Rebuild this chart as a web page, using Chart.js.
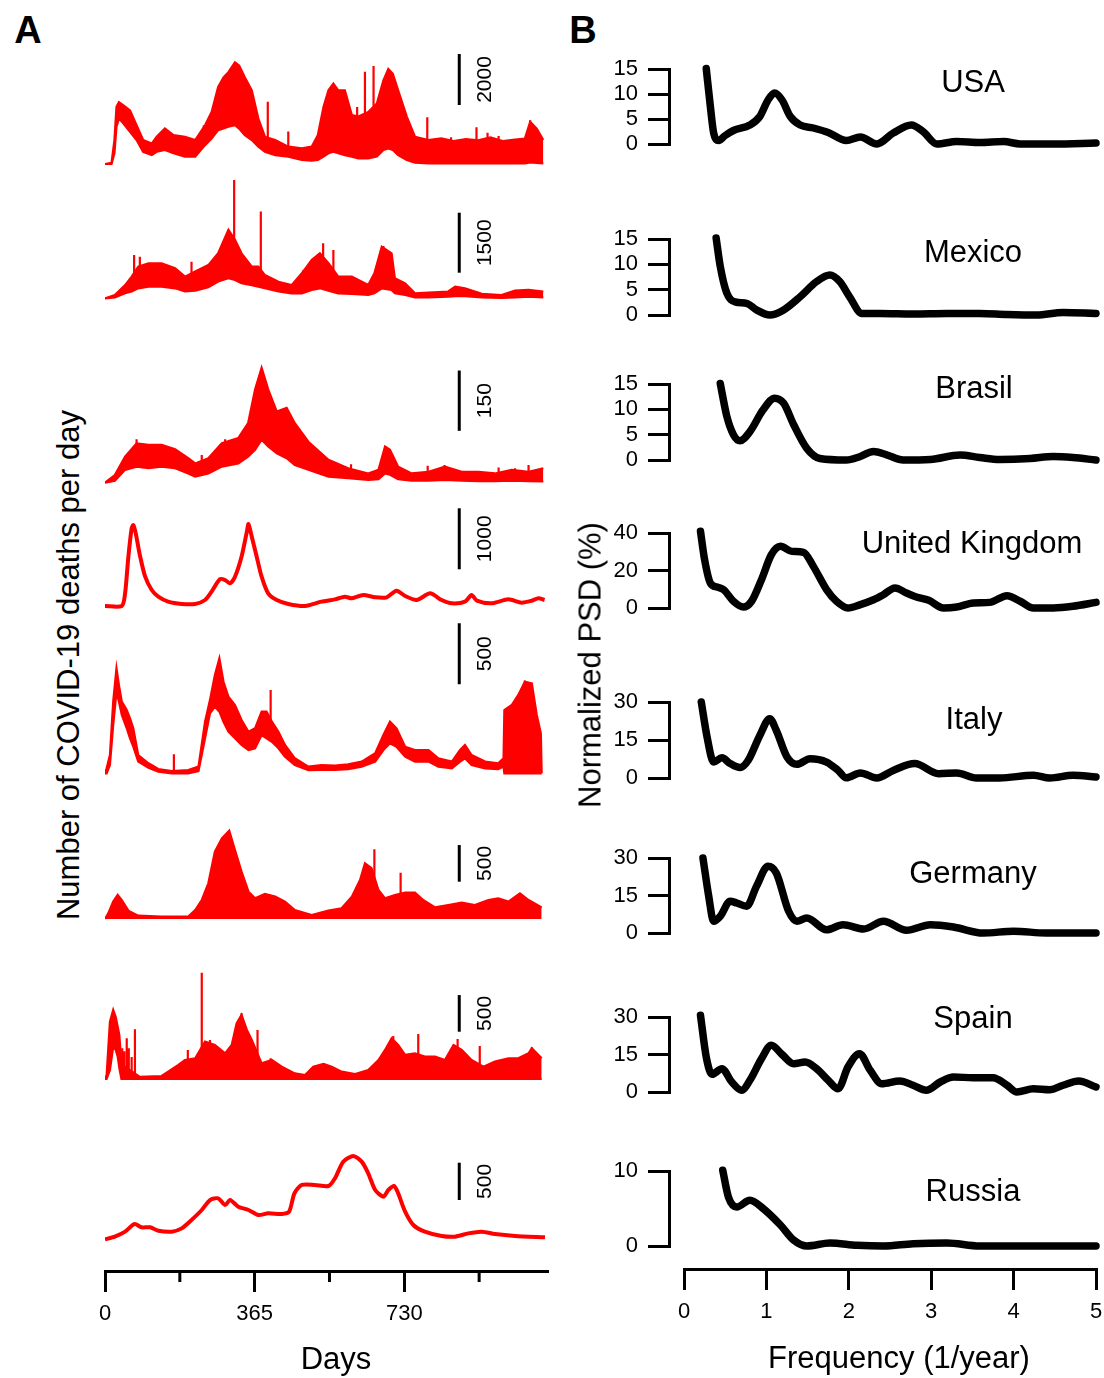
<!DOCTYPE html>
<html><head><meta charset="utf-8">
<script src="https://cdn.jsdelivr.net/npm/chart.js"></script>
<style>
html,body{margin:0;padding:0;background:#fff;}
body{width:1104px;height:1378px;position:relative;overflow:hidden;font-family:"Liberation Sans",Arial,Helvetica,sans-serif;color:#000;}
canvas{position:absolute;}
.lbl{position:absolute;white-space:nowrap;line-height:1;transform:translate(-50%,-50%);}
.rot{transform:translate(-50%,-50%) rotate(-90deg);}
</style></head><body>
<script>
// ---------------- DATA ----------------
const countries = ['USA','Mexico','Brasil','United Kingdom','Italy','Germany','Spain','Russia'];
const scaleBarValues = [2000,1500,150,1000,500,500,500,500];
const dayTicks = [0,365,730];
const dayMinorTicks = [182.5,547.5,912.5];
const freqTicks = [0,1,2,3,4,5];
const psdMax = [15,15,15,40,30,30,30,10];
const psdStep = [5,5,5,20,15,15,15,10];

// Panel A: daily deaths (upper / lower envelope of the daily series)
const usaDays = [0,16,23,28,34,45,61,77,93,114,126,146,167,195,220,244,260,276,289,301,317,327,341,358,374,390,415,447,480,504,519,533,545,557,569,585,602,618,642,663,679,691,702,715,736,756,789,820,850,880,910,940,970,1000,1024,1037,1053,1069];
const usaHi = [0,50,940,2240,2430,2300,2100,1520,940,800,1070,1390,1130,1070,940,1520,2040,3020,3400,3600,3990,3860,3400,2890,1780,1070,940,680,610,680,1130,2240,2890,3150,2890,2890,1920,1860,2040,2370,3280,3730,3540,2890,1860,1070,940,1010,900,980,930,1040,900,960,1000,1650,1390,940];
const usaLo = [0,0,420,1460,1780,1590,1260,940,480,350,480,550,420,290,290,740,1000,1330,1390,1460,1520,1390,1130,940,680,480,350,290,160,130,160,290,420,480,420,350,290,220,220,290,550,610,550,350,160,50,25,25,25,25,25,25,25,25,25,60,40,25];
const usaSpikeDays = [241,397,447,615,634,655,673,786,805,844,906,933,960,1037];
const usaSpikeValues = [1520,2440,1270,2240,3620,3840,2700,1830,1000,1050,1440,1230,1100,1720];

const mexDays = [0,24,49,65,81,106,138,171,195,220,252,276,301,317,333,358,374,390,423,455,480,504,524,545,569,602,642,657,675,699,707,732,756,789,837,854,878,919,967,1000,1033,1069];
const mexHi = [0,83,330,540,790,875,875,750,540,670,830,1125,1710,1460,1125,790,790,580,415,330,625,960,1125,875,540,540,330,625,1290,1125,500,375,125,140,170,290,250,110,83,190,210,170];
const mexLo = [0,25,125,170,250,290,290,250,170,190,275,420,500,460,375,330,290,250,170,125,125,210,250,190,125,110,83,125,250,210,125,83,25,25,40,55,55,25,10,25,40,25];
const mexSpikeDays = [71,85,211,315,380,484,532,557,679];
const mexSpikeValues = [1080,1040,915,2960,2170,710,1375,1210,1310];

const braDays = [0,24,49,77,106,138,171,203,220,252,285,325,349,366,382,398,419,443,463,496,545,593,642,667,683,695,715,748,789,829,870,911,951,992,1033,1069];
const braHi = [0,19,65,98,94,94,83,61,48,61,98,111,148,232,286,232,177,186,148,102,57,36,23,32,90,82,40,23,27,40,27,27,23,32,27,36];
const braLo = [0,5,32,40,36,40,36,23,15,23,40,48,65,82,107,90,73,61,44,32,15,11,7,9,23,20,9,5,5,7,5,4,4,5,4,3];
const braSpikeDays = [77,236,293,600,787,828,960,1000,1033,1065];
const braSpikeValues = [108,69,108,46,42,44,38,36,44,36];

const ukDays = [0,41,49,57,65,69,75,85,98,114,130,154,187,220,244,260,280,293,305,317,333,346,350,358,370,382,398,419,447,488,528,561,585,602,630,659,687,711,732,760,793,821,846,878,894,907,943,984,1016,1041,1057,1072];
const ukValues = [0,0,207,808,1272,1327,1190,835,480,262,153,71,33,33,98,235,437,426,371,480,808,1218,1343,1136,808,480,207,98,33,0,71,109,153,126,180,142,142,251,164,98,207,98,44,71,180,87,44,109,55,87,126,98];

const itaDays = [0,4,12,20,28,34,41,53,61,69,81,106,130,163,203,228,244,256,268,279,289,301,317,333,350,366,382,394,407,423,439,463,496,528,561,593,626,659,679,695,711,732,756,789,813,846,866,878,894,927,959,972,974,992,1008,1024,1041,1053,1063,1065];
const itaHi = [0,41,150,587,860,723,587,519,450,369,150,82,35,19,27,55,423,600,805,942,750,628,560,437,341,369,505,505,423,341,232,123,55,68,63,74,96,164,314,423,369,218,191,191,123,96,191,232,150,96,82,123,519,560,642,750,737,478,328,0];
const itaLo = [0,0,68,396,669,587,478,369,287,218,96,46,14,0,0,19,287,491,546,505,423,341,287,232,191,205,314,287,259,205,136,68,25,27,27,33,55,96,191,246,218,136,96,96,55,41,96,123,68,41,35,55,0,0,0,0,0,0,0,0];
const itaSpikeDays = [168,404,1024,1036];
const itaSpikeValues = [156,683,760,737];

const gerDays = [0,8,20,31,41,57,81,138,203,220,236,252,268,285,303,317,333,350,366,390,415,439,463,504,545,577,602,622,634,650,667,683,707,732,756,776,805,837,870,902,935,959,984,1012,1033,1065];
const gerHi = [0,77,237,328,259,114,46,32,32,123,259,487,919,1100,1205,942,646,373,282,341,305,237,123,55,114,146,305,532,760,692,396,282,328,360,360,259,159,191,223,191,259,282,237,350,259,159];
const gerSpikeDays = [657,721];
const gerSpikeValues = [950,632];

const spaDays = [0,4,12,20,26,31,35,40,85,138,154,179,195,220,244,268,293,309,321,333,346,358,382,407,431,463,488,508,533,553,577,610,642,667,683,699,715,732,756,780,805,829,850,870,894,923,951,984,1008,1033,1041,1065];
const spaHi = [0,55,783,942,850,714,600,200,30,41,100,191,259,282,510,464,350,464,760,874,669,532,214,259,168,77,55,168,205,168,100,68,123,259,396,555,464,328,350,305,305,259,464,396,259,168,237,282,282,350,419,282];
const spaLo = [0,0,123,441,400,305,150,0,0,0,0,0,0,0,0,0,0,0,0,0,0,0,0,0,0,0,0,0,0,0,0,0,0,0,0,0,0,0,0,0,0,0,0,0,0,0,0,0,0,0,0,0];
const spaSpikeDays = [42,47,53,58,65,73,202,236,256,333,372,404,703,764,860,914,1041];
const spaSpikeValues = [420,380,555,420,300,678,396,1451,532,896,669,282,587,614,546,450,432];

const rusDays = [0,24,49,72,89,110,130,163,187,211,236,256,276,293,305,325,350,374,398,431,449,462,480,512,545,561,581,606,626,642,659,679,691,705,715,732,752,780,821,854,886,919,951,1000,1073];
const rusValues = [9,45,112,215,170,170,125,112,156,268,402,536,559,469,536,447,402,335,358,349,380,626,738,738,724,827,1050,1126,1050,894,670,581,670,724,626,380,201,112,54,45,89,112,80,54,36];

// Panel B: normalized PSD (%) vs frequency (1/year)
const usaFreq = [0.27,0.32,0.36,0.42,0.50,0.60,0.80,0.92,1.02,1.10,1.19,1.29,1.41,1.57,1.75,1.97,2.14,2.34,2.54,2.76,2.90,3.07,3.31,3.59,3.88,4.08,4.48,5.0];
const usaPsd = [15.1,7.5,2.2,0.7,1.7,2.7,3.8,5.5,8.8,10.2,8.8,5.5,3.8,3.2,2.3,0.7,1.4,0,2.2,3.8,2.5,0,0.5,0.3,0.5,0,0,0.2];
const mexFreq = [0.39,0.44,0.52,0.62,0.76,0.88,1.04,1.21,1.41,1.61,1.77,1.89,2.01,2.16,2.38,2.78,3.19,3.59,3.92,4.28,4.60,5.0];
const mexPsd = [15.2,9.6,4.3,2.6,2.3,1.0,0,1.0,3.6,6.6,7.9,6.6,3.6,0.3,0.3,0.2,0.3,0.3,0.1,0,0.5,0.3];
const braFreq = [0.44,0.52,0.60,0.68,0.80,0.96,1.10,1.21,1.33,1.49,1.65,1.97,2.14,2.30,2.46,2.66,2.99,3.35,3.59,3.83,4.20,4.48,4.72,5.0];
const braPsd = [15.1,8.6,5.0,3.8,5.6,9.9,12.2,11.2,7.0,2.3,0.3,0,0.7,1.7,1.0,0,0.1,1.0,0.5,0.1,0.3,0.7,0.5,0];
const ukFreq = [0.20,0.25,0.32,0.40,0.48,0.60,0.72,0.82,0.94,1.06,1.17,1.31,1.45,1.57,1.73,1.85,1.99,2.14,2.30,2.42,2.56,2.70,2.82,2.97,3.15,3.31,3.51,3.71,3.92,4.08,4.24,4.48,4.72,5.0];
const ukPsd = [40.9,25.8,13.3,11.2,9.8,3.6,0.5,3.6,15.1,28.4,32.9,30.2,29.7,22.2,9.8,3.6,0,1.8,4.4,7.1,10.7,8.0,5.9,4.1,0,0.5,2.7,3.0,6.6,3.6,0,0,0.9,3.0];
const itaFreq = [0.21,0.28,0.36,0.46,0.56,0.68,0.78,0.92,1.04,1.12,1.25,1.37,1.53,1.73,1.87,1.97,2.14,2.34,2.54,2.80,3.09,3.31,3.55,3.83,4.24,4.44,4.72,5.0];
const itaPsd = [30,16.2,6.3,8.0,5.7,4.1,7.0,16.8,23.4,18.8,8.3,5.4,7.6,6.3,3.0,0.1,2.0,0,3.0,5.7,1.7,2.0,0,0,1.1,0,1.1,0.4];
const gerFreq = [0.23,0.30,0.36,0.44,0.56,0.64,0.76,0.88,1.02,1.12,1.27,1.37,1.49,1.73,1.93,2.18,2.42,2.70,2.99,3.27,3.63,4.00,4.40,5.0];
const gerPsd = [30,14.7,4.7,6.7,12.7,12.0,10.7,18.7,26.7,24.0,8.7,4.7,6.0,1.3,3.3,1.6,4.7,1.1,3.3,2.4,0,0.7,0,0];
const spaFreq = [0.20,0.27,0.34,0.46,0.58,0.70,0.80,0.94,1.06,1.19,1.33,1.47,1.61,1.75,1.87,1.99,2.13,2.26,2.40,2.62,2.78,2.94,3.11,3.27,3.51,3.75,3.92,4.04,4.24,4.44,4.60,4.79,5.0];
const spaPsd = [30.7,14.0,7.1,9.3,4.0,0.7,4.7,13.3,18.7,15.0,11.3,12.0,9.3,4.7,1.3,10.0,15.3,8.7,3.3,4.4,2.7,0.7,4.0,6.0,5.7,5.7,2.7,0,1.3,0.9,2.7,4.4,2.0];
const rusFreq = [0.47,0.54,0.64,0.80,0.96,1.17,1.33,1.49,1.77,2.10,2.42,2.78,3.19,3.59,4.20,5.0];
const rusPsd = [10.1,6.5,5.2,6.1,5.0,2.8,0.8,0,0.4,0.1,0,0.3,0.4,0,0,0];

// ---------------- LAYOUT / STYLE ----------------
const FONT = "'Liberation Sans', Arial, Helvetica, sans-serif";
Chart.defaults.font.family = FONT;
Chart.defaults.color = '#000';
const RED = '#ff0000';
const DAY_MAX = 1078;
const SCALE_BAR_DAY = 864;

const seriesA = [
  {days:usaDays, hi:usaHi, lo:usaLo, sd:usaSpikeDays, sv:usaSpikeValues},
  {days:mexDays, hi:mexHi, lo:mexLo, sd:mexSpikeDays, sv:mexSpikeValues},
  {days:braDays, hi:braHi, lo:braLo, sd:braSpikeDays, sv:braSpikeValues},
  {days:ukDays, line:ukValues},
  {days:itaDays, hi:itaHi, lo:itaLo, sd:itaSpikeDays, sv:itaSpikeValues},
  {days:gerDays, hi:gerHi, sd:gerSpikeDays, sv:gerSpikeValues},
  {days:spaDays, hi:spaHi, lo:spaLo, sd:spaSpikeDays, sv:spaSpikeValues},
  {days:rusDays, line:rusValues}
];
const layoutA = [
  {base:164, k:0.0255, top:45, bottom:172, barFrom:2314},
  {base:298.3, k:0.04, top:176, bottom:306, barFrom:640},
  {base:482.7, k:0.402, top:362, bottom:490, barFrom:129},
  {base:606, k:0.061, top:502, bottom:614, barFrom:602},
  {base:773.3, k:0.122, top:617, bottom:781, barFrom:730},
  {base:919, k:0.0733, top:822, bottom:927, barFrom:509},
  {base:1079, k:0.0733, top:966, bottom:1087, barFrom:645},
  {base:1240, k:0.0746, top:1146, bottom:1248, barFrom:536}
];
const seriesB = [
  [usaFreq,usaPsd],[mexFreq,mexPsd],[braFreq,braPsd],[ukFreq,ukPsd],
  [itaFreq,itaPsd],[gerFreq,gerPsd],[spaFreq,spaPsd],[rusFreq,rusPsd]
];
const layoutB = [
  {top:69, zero:144},{top:239, zero:315},{top:384, zero:460},{top:533, zero:608},
  {top:702, zero:778},{top:858, zero:933},{top:1017, zero:1092},{top:1171, zero:1246}
];
const labelPosB = [[973,81],[973,251],[974,387],[972,542],[974,718],[973,872],[973,1017],[973,1190]];

function addCanvas(left, top, w, h){
  const c = document.createElement('canvas');
  c.width = w; c.height = h;
  c.style.left = left+'px'; c.style.top = top+'px';
  c.style.width = w+'px'; c.style.height = h+'px';
  document.body.appendChild(c);
  return c;
}
function addLabel(text, cx, cy, size, extra){
  const d = document.createElement('div');
  d.className = 'lbl' + (extra && extra.rot ? ' rot' : '');
  d.textContent = text;
  d.style.left = cx+'px'; d.style.top = cy+'px';
  d.style.fontSize = size+'px';
  if (extra && extra.bold) d.style.fontWeight = 'bold';
  document.body.appendChild(d);
}
// value of the lower envelope at a given day (for the base of a spike)
function lowerAt(days, vals, d){
  if (!vals) return 0;
  for (let j = 0; j < days.length-1; j++){
    if (d >= days[j] && d <= days[j+1]){
      const t = (d - days[j])/(days[j+1]-days[j]);
      return vals[j] + t*(vals[j+1]-vals[j]);
    }
  }
  return 0;
}
function zeroPad(sc){ sc.paddingLeft = 0; sc.paddingRight = 0; sc.paddingTop = 0; sc.paddingBottom = 0; }
const baseOpts = {responsive:false, devicePixelRatio:1, animation:false, events:[],
  plugins:{legend:{display:false}, tooltip:{enabled:false}, title:{display:false}}};

// ---------------- PANEL A ----------------
seriesA.forEach((s, i) => {
  const L = layoutA[i];
  const h = L.bottom - L.top;
  const c = addCanvas(95, L.top, 465, h);
  const yMin = -(L.bottom - L.base)/L.k, yMax = (L.base - L.top)/L.k;
  const ds = [];
  if (s.line) {
    ds.push({data:s.days.map((d,j)=>({x:d,y:s.line[j]})), borderColor:RED, borderWidth:4, pointRadius:0, tension:0.25, fill:false, borderJoinStyle:'round'});
  } else {
    ds.push({data:s.days.map((d,j)=>({x:d,y:s.hi[j]})), borderColor:RED, backgroundColor:RED, borderWidth:2.2, pointRadius:0, tension:0, fill: s.lo ? '+1' : 'origin'});
    if (s.lo) ds.push({data:s.days.map((d,j)=>({x:d,y:s.lo[j]})), borderColor:RED, borderWidth:2.2, pointRadius:0, tension:0, fill:false});
    if (s.sd) {
      const pts = [];
      s.sd.forEach((d,j)=>{ pts.push({x:d,y:lowerAt(s.days, s.lo, d)}); pts.push({x:d,y:s.sv[j]}); pts.push({x:d,y:null}); });
      ds.push({data:pts, borderColor:RED, borderWidth:2.2, pointRadius:0, spanGaps:false, fill:false, tension:0});
    }
  }
  const barPlugin = {
    id:'scalebar',
    afterDraw(chart){
      const ctx = chart.ctx, xs = chart.scales.x, ys = chart.scales.y;
      const x = xs.getPixelForValue(SCALE_BAR_DAY);
      const y1 = ys.getPixelForValue(L.barFrom), y2 = ys.getPixelForValue(L.barFrom + scaleBarValues[i]);
      ctx.save();
      ctx.strokeStyle = '#000'; ctx.lineWidth = 3;
      ctx.beginPath(); ctx.moveTo(x,y1); ctx.lineTo(x,y2); ctx.stroke();
      ctx.translate(x+26, (y1+y2)/2); ctx.rotate(-Math.PI/2);
      ctx.font = "21px " + FONT; ctx.fillStyle = '#000';
      ctx.textAlign = 'center'; ctx.textBaseline = 'middle';
      ctx.fillText(String(scaleBarValues[i]), 0, 0);
      ctx.restore();
    }
  };
  new Chart(c, {type:'line', data:{datasets:ds}, plugins:[barPlugin],
    options:Object.assign({}, baseOpts, {
      layout:{padding:{left:10,right:13,top:0,bottom:0}},
      scales:{x:{type:'linear', display:false, min:0, max:DAY_MAX}, y:{display:false, min:yMin, max:yMax}}
    })});
});

// bottom axis panel A
(function(){
  const c = addCanvas(95, 1255, 465, 123);
  const minorPlugin = {id:'minor', afterDraw(chart){
    const ctx = chart.ctx, xs = chart.scales.x, y = chart.chartArea.bottom;
    ctx.save(); ctx.strokeStyle='#000'; ctx.lineWidth=3; ctx.beginPath();
    dayMinorTicks.forEach(v=>{ const x = xs.getPixelForValue(v); ctx.moveTo(x,y); ctx.lineTo(x,y+11); });
    ctx.stroke(); ctx.restore();
  }};
  new Chart(c, {type:'line', data:{datasets:[]}, plugins:[minorPlugin],
    options:Object.assign({}, baseOpts, {
      layout:{padding:{left:10,right:13,top:0,bottom:0}},
      scales:{
        x:{type:'linear', position:'bottom', min:0, max:DAY_MAX,
           afterBuildTicks(s){ s.ticks = dayTicks.map(v=>({value:v})); },
           afterFit(s){ s.height = 107; zeroPad(s); },
           ticks:{autoSkip:false, maxRotation:0, padding:9, font:{size:22}, color:'#000'},
           grid:{drawOnChartArea:false, tickLength:21, tickWidth:3, tickColor:'#000', color:'#000', lineWidth:3},
           border:{display:true, width:3, color:'#000'}},
        y:{display:false, min:0, max:1}
      }
    })});
})();

// ---------------- PANEL B ----------------
seriesB.forEach((s, i) => {
  const L = layoutB[i];
  const c = addCanvas(599, L.top-14, 505, (L.zero-L.top)+28);
  new Chart(c, {type:'line',
    data:{datasets:[{data:s[0].map((f,j)=>({x:f,y:s[1][j]})), borderColor:'#000', borderWidth:7.5, pointRadius:0,
      cubicInterpolationMode:'monotone', borderCapStyle:'round', borderJoinStyle:'round', fill:false, clip:false}]},
    options:Object.assign({}, baseOpts, {
      layout:{padding:{left:0,right:8,top:14,bottom:14}},
      scales:{
        x:{type:'linear', display:false, min:-0.182, max:5},
        y:{min:0, max:psdMax[i],
           afterFit(sc){ sc.width = 70; zeroPad(sc); },
           ticks:{stepSize:psdStep[i], autoSkip:false, padding:10, font:{size:22}, color:'#000'},
           grid:{drawOnChartArea:false, tickLength:21, tickWidth:3, tickColor:'#000', color:'#000', lineWidth:3},
           border:{display:true, width:3, color:'#000'}}
      }
    })});
  addLabel(countries[i], labelPosB[i][0], labelPosB[i][1], 31);
});

// bottom axis panel B
(function(){
  const c = addCanvas(674, 1253, 430, 125);
  new Chart(c, {type:'line', data:{datasets:[]},
    options:Object.assign({}, baseOpts, {
      layout:{padding:{left:10,right:8,top:0,bottom:0}},
      scales:{
        x:{type:'linear', position:'bottom', min:0, max:5,
           afterBuildTicks(s){ s.ticks = freqTicks.map(v=>({value:v})); },
           afterFit(s){ s.height = 109; zeroPad(s); },
           ticks:{autoSkip:false, maxRotation:0, padding:9, font:{size:22}, color:'#000'},
           grid:{drawOnChartArea:false, tickLength:21, tickWidth:3, tickColor:'#000', color:'#000', lineWidth:3},
           border:{display:true, width:3, color:'#000'}},
        y:{display:false, min:0, max:1}
      }
    })});
})();

// ---------------- TEXT ----------------
addLabel('A', 28, 30, 38, {bold:true});
addLabel('B', 583, 30, 38, {bold:true});
addLabel('Number of COVID-19 deaths per day', 68, 665, 31, {rot:true});
addLabel('Normalized PSD (%)', 590, 665, 31, {rot:true});
addLabel('Days', 336, 1358, 31);
addLabel('Frequency (1/year)', 899, 1357, 31);
</script>
</body></html>
